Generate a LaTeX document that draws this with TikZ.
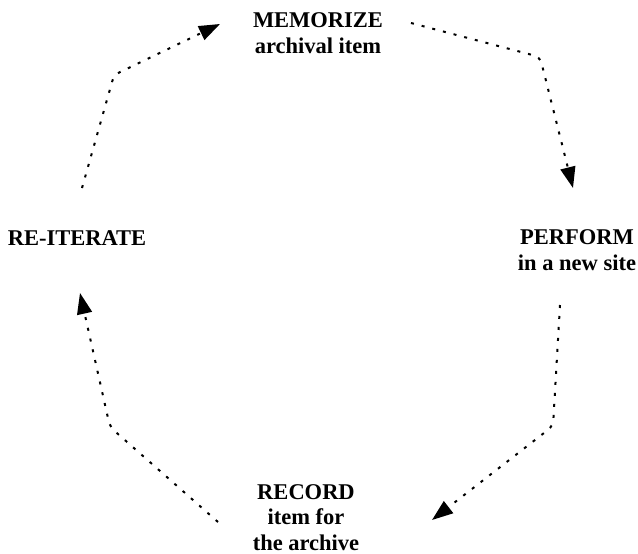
\documentclass[tikz,border=0pt]{standalone}
\usepackage{fontspec}
\setmainfont{Liberation Serif}
\usetikzlibrary{arrows.meta}
\begin{document}
\begin{tikzpicture}[x=1pt,y=-1pt,
  lbl/.style={inner sep=0pt,anchor=base,align=center,font=\fontsize{22.5}{25.5}\selectfont\bfseries},
  flow/.style={line width=2pt,dash pattern=on 3pt off 8pt,rounded corners=6pt,
    -{Triangle[length=21pt,width=15pt]}}]
\useasboundingbox (0,0) rectangle (638,554);
\node[lbl] (mem) at (318,53) {MEMORIZE\\archival item};
\node[lbl] (perf) at (577,270) {PERFORM\\in a new site};
\node[lbl] (reit) at (77,245) {RE-ITERATE};
\node[lbl] (rec) at (306,550) {RECORD\\item for\\the archive};
\coordinate (a1s) at (82,188);  \coordinate (a1c) at (114,75);  \coordinate (a1e) at (220,24);
\coordinate (a2s) at (411,23);  \coordinate (a2c) at (540,57);  \coordinate (a2e) at (573,188);
\coordinate (a3s) at (560,305); \coordinate (a3c) at (553,426); \coordinate (a3e) at (432,520);
\coordinate (a4s) at (218,522); \coordinate (a4c) at (110,427); \coordinate (a4e) at (80,293);
\draw[flow] (a1s) -- (a1c) -- (a1e);
\draw[flow] (a2s) -- (a2c) -- (a2e);
\draw[flow] (a3s) -- (a3c) -- (a3e);
\draw[flow] (a4s) -- (a4c) -- (a4e);
\end{tikzpicture}
\end{document}
